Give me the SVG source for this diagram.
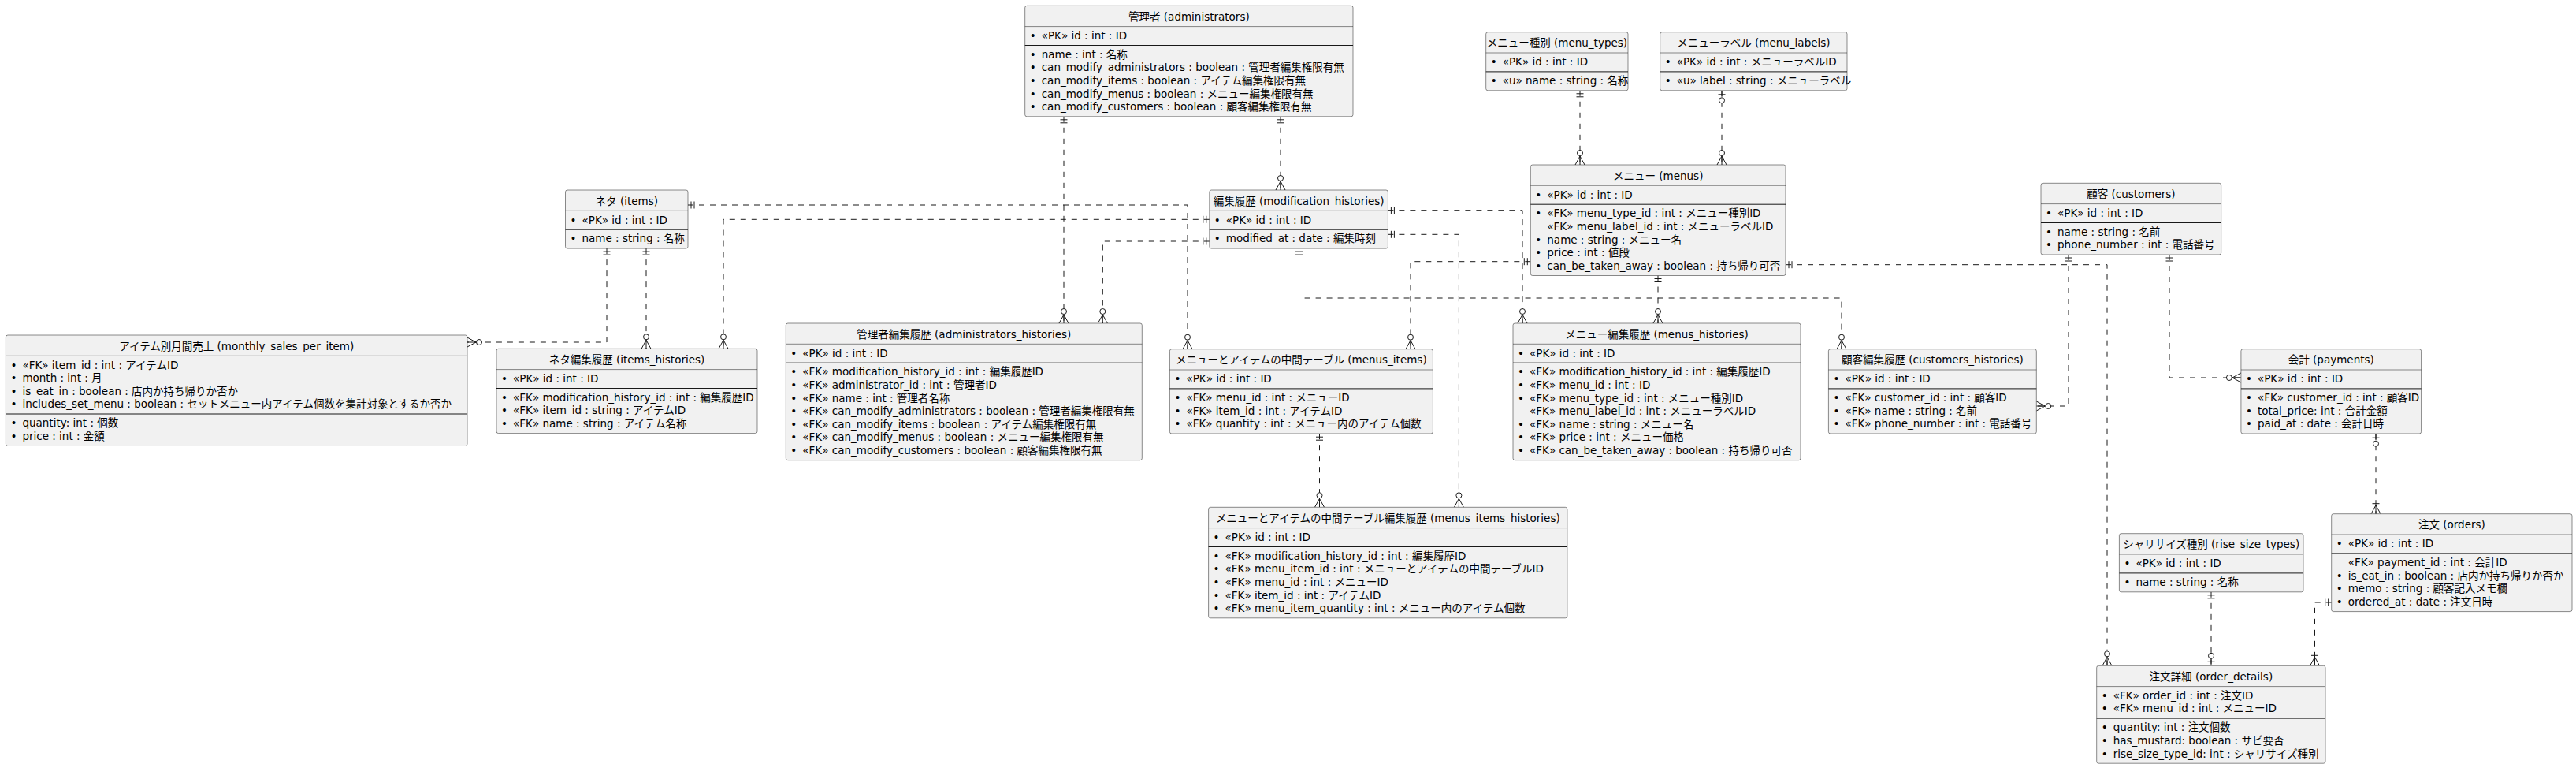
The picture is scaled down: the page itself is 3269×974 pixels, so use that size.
<svg xmlns="http://www.w3.org/2000/svg" width="3269" height="974" viewBox="0 0 3269 974">
<style>
.box{fill:#F1F1F1;stroke:#181818;stroke-width:0.5}
.tsep{stroke:#181818;stroke-width:0.5}
.sep{stroke:#181818;stroke-width:1}
text{font-family:"DejaVu Sans","Noto Sans CJK JP",sans-serif;font-size:13.5px;fill:#000}
.t{text-anchor:middle}
.c{fill:none;stroke:#181818;stroke-width:1;stroke-dasharray:7 7}
.m{fill:none;stroke:#181818;stroke-width:1}
.mc{fill:#fff;stroke:#181818;stroke-width:1}
</style>
<defs>
<marker id="one" viewBox="-20 -10 22 20" markerWidth="22" markerHeight="20" refX="0" refY="0" orient="auto-start-reverse" markerUnits="userSpaceOnUse" overflow="visible"><path class="m" d="M-4,-4.5V4.5M-8,-4.5V4.5"/></marker>
<marker id="zm" viewBox="-20 -10 22 20" markerWidth="22" markerHeight="20" refX="0" refY="0" orient="auto-start-reverse" markerUnits="userSpaceOnUse" overflow="visible"><path class="m" d="M0,-6L-11,0L0,6M0,0H-11"/><circle class="mc" cx="-15" cy="0" r="3.5"/></marker>
<marker id="zo" viewBox="-20 -10 22 20" markerWidth="22" markerHeight="20" refX="0" refY="0" orient="auto-start-reverse" markerUnits="userSpaceOnUse" overflow="visible"><path class="m" d="M-5,-4.5V4.5M0,0H-8"/><circle class="mc" cx="-12.5" cy="0" r="3.5"/></marker>
<marker id="om" viewBox="-20 -10 22 20" markerWidth="22" markerHeight="20" refX="0" refY="0" orient="auto-start-reverse" markerUnits="userSpaceOnUse" overflow="visible"><path class="m" d="M0,-6L-11,0L0,6M0,0H-11M-13,-4.5V4.5"/></marker>
</defs>
<rect x="0" y="0" width="3269" height="974" fill="#fff"/>

<g id="connectors">
<path class="c" d="M1350,147.8V410" marker-start="url(#one)" marker-end="url(#zm)"/>
<path class="c" d="M1625,147.8V241" marker-start="url(#one)" marker-end="url(#zm)"/>
<path class="c" d="M2005,114.8V209" marker-start="url(#one)" marker-end="url(#zm)"/>
<path class="c" d="M2185,114.8V209" marker-start="url(#zo)" marker-end="url(#zm)"/>
<path class="c" d="M873,260H1507V442.7" marker-start="url(#one)" marker-end="url(#zm)"/>
<path class="c" d="M770,315.1V434H593" marker-start="url(#one)" marker-end="url(#zm)"/>
<path class="c" d="M820,315.1V442.3" marker-start="url(#one)" marker-end="url(#zm)"/>
<path class="c" d="M1534.8,278.3H918V442.3" marker-start="url(#one)" marker-end="url(#zm)"/>
<path class="c" d="M1534.8,306H1399.3V410" marker-start="url(#one)" marker-end="url(#zm)"/>
<path class="c" d="M1761.4,266.7H1932V410" marker-start="url(#one)" marker-end="url(#zm)"/>
<path class="c" d="M1761.4,297.3H1851.4V643.3" marker-start="url(#one)" marker-end="url(#zm)"/>
<path class="c" d="M1648.5,315.1V378H2337V442.7" marker-start="url(#one)" marker-end="url(#zm)"/>
<path class="c" d="M1942.3,331.7H1790V442.7" marker-start="url(#one)" marker-end="url(#zm)"/>
<path class="c" d="M2104,349.5V410" marker-start="url(#one)" marker-end="url(#zm)"/>
<path class="c" d="M2266,335.7H2674V844.3" marker-start="url(#one)" marker-end="url(#zm)"/>
<path class="c" d="M1674.5,550.2V643.3" marker-start="url(#one)" marker-end="url(#zm)"/>
<path class="c" d="M2625,323V515H2584.3" marker-start="url(#one)" marker-end="url(#zm)"/>
<path class="c" d="M2753,323V479H2843.9" marker-start="url(#one)" marker-end="url(#zm)"/>
<path class="c" d="M3015,550.2V651.7" marker-start="url(#zo)" marker-end="url(#om)"/>
<path class="c" d="M2958.7,764H2937.5V844.3" marker-start="url(#one)" marker-end="url(#om)"/>
<path class="c" d="M2806,750.8V844.3" marker-start="url(#one)" marker-end="url(#zo)"/>
</g>

<g id="administrators">
<rect class="box" x="1300.7" y="7.3" width="416.3" height="140.5" rx="2.5"/>
<line class="tsep" x1="1300.7" y1="33.6" x2="1717" y2="33.6"/>
<line class="sep" x1="1300.7" y1="57.5" x2="1717" y2="57.5"/>
<text class="t" x="1508.9" y="25.8">管理者 (administrators)</text>
<text y="49.8"><tspan x="1306.7">•</tspan><tspan x="1321.7">«PK» id : int : ID</tspan></text>
<text y="73.7"><tspan x="1306.7">•</tspan><tspan x="1321.7">name : int : 名称</tspan></text>
<text y="90.3"><tspan x="1306.7">•</tspan><tspan x="1321.7">can_modify_administrators : boolean : 管理者編集権限有無</tspan></text>
<text y="106.9"><tspan x="1306.7">•</tspan><tspan x="1321.7">can_modify_items : boolean : アイテム編集権限有無</tspan></text>
<text y="123.5"><tspan x="1306.7">•</tspan><tspan x="1321.7">can_modify_menus : boolean : メニュー編集権限有無</tspan></text>
<text y="140.1"><tspan x="1306.7">•</tspan><tspan x="1321.7">can_modify_customers : boolean : 顧客編集権限有無</tspan></text>
</g>

<g id="menu_types">
<rect class="box" x="1885.7" y="40.7" width="180.3" height="74.1" rx="2.5"/>
<line class="tsep" x1="1885.7" y1="67" x2="2066" y2="67"/>
<line class="sep" x1="1885.7" y1="90.9" x2="2066" y2="90.9"/>
<text class="t" x="1975.9" y="59.2">メニュー種別 (menu_types)</text>
<text y="83.2"><tspan x="1891.7">•</tspan><tspan x="1906.7">«PK» id : int : ID</tspan></text>
<text y="107.1"><tspan x="1891.7">•</tspan><tspan x="1906.7">«u» name : string : 名称</tspan></text>
</g>

<g id="menu_labels">
<rect class="box" x="2106.7" y="40.7" width="237.3" height="74.1" rx="2.5"/>
<line class="tsep" x1="2106.7" y1="67" x2="2344" y2="67"/>
<line class="sep" x1="2106.7" y1="90.9" x2="2344" y2="90.9"/>
<text class="t" x="2225.4" y="59.2">メニューラベル (menu_labels)</text>
<text y="83.2"><tspan x="2112.7">•</tspan><tspan x="2127.7">«PK» id : int : メニューラベルID</tspan></text>
<text y="107.1"><tspan x="2112.7">•</tspan><tspan x="2127.7">«u» label : string : メニューラベル</tspan></text>
</g>

<g id="items">
<rect class="box" x="717.5" y="241" width="155.5" height="74.1" rx="2.5"/>
<line class="tsep" x1="717.5" y1="267.3" x2="873" y2="267.3"/>
<line class="sep" x1="717.5" y1="291.2" x2="873" y2="291.2"/>
<text class="t" x="795.3" y="259.5">ネタ (items)</text>
<text y="283.5"><tspan x="723.5">•</tspan><tspan x="738.5">«PK» id : int : ID</tspan></text>
<text y="307.4"><tspan x="723.5">•</tspan><tspan x="738.5">name : string : 名称</tspan></text>
</g>

<g id="modification_histories">
<rect class="box" x="1534.8" y="241" width="226.6" height="74.1" rx="2.5"/>
<line class="tsep" x1="1534.8" y1="267.3" x2="1761.4" y2="267.3"/>
<line class="sep" x1="1534.8" y1="291.2" x2="1761.4" y2="291.2"/>
<text class="t" x="1648.1" y="259.5">編集履歴 (modification_histories)</text>
<text y="283.5"><tspan x="1540.8">•</tspan><tspan x="1555.8">«PK» id : int : ID</tspan></text>
<text y="307.4"><tspan x="1540.8">•</tspan><tspan x="1555.8">modified_at : date : 編集時刻</tspan></text>
</g>

<g id="menus">
<rect class="box" x="1942.3" y="209" width="323.7" height="140.5" rx="2.5"/>
<line class="tsep" x1="1942.3" y1="235.3" x2="2266" y2="235.3"/>
<line class="sep" x1="1942.3" y1="259.2" x2="2266" y2="259.2"/>
<text class="t" x="2104.2" y="227.5">メニュー (menus)</text>
<text y="251.5"><tspan x="1948.3">•</tspan><tspan x="1963.3">«PK» id : int : ID</tspan></text>
<text y="275.4"><tspan x="1948.3">•</tspan><tspan x="1963.3">«FK» menu_type_id : int : メニュー種別ID</tspan></text>
<text y="292" x="1963.3">«FK» menu_label_id : int : メニューラベルID</text>
<text y="308.6"><tspan x="1948.3">•</tspan><tspan x="1963.3">name : string : メニュー名</tspan></text>
<text y="325.2"><tspan x="1948.3">•</tspan><tspan x="1963.3">price : int : 値段</tspan></text>
<text y="341.8"><tspan x="1948.3">•</tspan><tspan x="1963.3">can_be_taken_away : boolean : 持ち帰り可否</tspan></text>
</g>

<g id="customers">
<rect class="box" x="2590" y="232.3" width="228.7" height="90.7" rx="2.5"/>
<line class="tsep" x1="2590" y1="258.6" x2="2818.7" y2="258.6"/>
<line class="sep" x1="2590" y1="282.5" x2="2818.7" y2="282.5"/>
<text class="t" x="2704.4" y="250.8">顧客 (customers)</text>
<text y="274.8"><tspan x="2596">•</tspan><tspan x="2611">«PK» id : int : ID</tspan></text>
<text y="298.7"><tspan x="2596">•</tspan><tspan x="2611">name : string : 名前</tspan></text>
<text y="315.3"><tspan x="2596">•</tspan><tspan x="2611">phone_number : int : 電話番号</tspan></text>
</g>

<g id="monthly_sales_per_item">
<rect class="box" x="7.4" y="425" width="585.6" height="140.5" rx="2.5"/>
<line class="tsep" x1="7.4" y1="451.3" x2="593" y2="451.3"/>
<line class="sep" x1="7.4" y1="525" x2="593" y2="525"/>
<text class="t" x="300.2" y="443.5">アイテム別月間売上 (monthly_sales_per_item)</text>
<text y="467.5"><tspan x="13.4">•</tspan><tspan x="28.4">«FK» item_id : int : アイテムID</tspan></text>
<text y="484.1"><tspan x="13.4">•</tspan><tspan x="28.4">month : int : 月</tspan></text>
<text y="500.7"><tspan x="13.4">•</tspan><tspan x="28.4">is_eat_in : boolean : 店内か持ち帰りか否か</tspan></text>
<text y="517.3"><tspan x="13.4">•</tspan><tspan x="28.4">includes_set_menu : boolean : セットメニュー内アイテム個数を集計対象とするか否か</tspan></text>
<text y="541.2"><tspan x="13.4">•</tspan><tspan x="28.4">quantity: int : 個数</tspan></text>
<text y="557.8"><tspan x="13.4">•</tspan><tspan x="28.4">price : int : 金額</tspan></text>
</g>

<g id="items_histories">
<rect class="box" x="630" y="442.3" width="331" height="107.3" rx="2.5"/>
<line class="tsep" x1="630" y1="468.6" x2="961" y2="468.6"/>
<line class="sep" x1="630" y1="492.5" x2="961" y2="492.5"/>
<text class="t" x="795.5" y="460.8">ネタ編集履歴 (items_histories)</text>
<text y="484.8"><tspan x="636">•</tspan><tspan x="651">«PK» id : int : ID</tspan></text>
<text y="508.7"><tspan x="636">•</tspan><tspan x="651">«FK» modification_history_id : int : 編集履歴ID</tspan></text>
<text y="525.3"><tspan x="636">•</tspan><tspan x="651">«FK» item_id : string : アイテムID</tspan></text>
<text y="541.9"><tspan x="636">•</tspan><tspan x="651">«FK» name : string : アイテム名称</tspan></text>
</g>

<g id="administrators_histories">
<rect class="box" x="997.3" y="410" width="452" height="173.7" rx="2.5"/>
<line class="tsep" x1="997.3" y1="436.3" x2="1449.3" y2="436.3"/>
<line class="sep" x1="997.3" y1="460.2" x2="1449.3" y2="460.2"/>
<text class="t" x="1223.3" y="428.5">管理者編集履歴 (administrators_histories)</text>
<text y="452.5"><tspan x="1003.3">•</tspan><tspan x="1018.3">«PK» id : int : ID</tspan></text>
<text y="476.4"><tspan x="1003.3">•</tspan><tspan x="1018.3">«FK» modification_history_id : int : 編集履歴ID</tspan></text>
<text y="493"><tspan x="1003.3">•</tspan><tspan x="1018.3">«FK» administrator_id : int : 管理者ID</tspan></text>
<text y="509.6"><tspan x="1003.3">•</tspan><tspan x="1018.3">«FK» name : int : 管理者名称</tspan></text>
<text y="526.2"><tspan x="1003.3">•</tspan><tspan x="1018.3">«FK» can_modify_administrators : boolean : 管理者編集権限有無</tspan></text>
<text y="542.8"><tspan x="1003.3">•</tspan><tspan x="1018.3">«FK» can_modify_items : boolean : アイテム編集権限有無</tspan></text>
<text y="559.4"><tspan x="1003.3">•</tspan><tspan x="1018.3">«FK» can_modify_menus : boolean : メニュー編集権限有無</tspan></text>
<text y="576"><tspan x="1003.3">•</tspan><tspan x="1018.3">«FK» can_modify_customers : boolean : 顧客編集権限有無</tspan></text>
</g>

<g id="menus_items">
<rect class="box" x="1484.4" y="442.7" width="334" height="107.3" rx="2.5"/>
<line class="tsep" x1="1484.4" y1="469" x2="1818.4" y2="469"/>
<line class="sep" x1="1484.4" y1="492.9" x2="1818.4" y2="492.9"/>
<text class="t" x="1651.4" y="461.2">メニューとアイテムの中間テーブル (menus_items)</text>
<text y="485.2"><tspan x="1490.4">•</tspan><tspan x="1505.4">«PK» id : int : ID</tspan></text>
<text y="509.1"><tspan x="1490.4">•</tspan><tspan x="1505.4">«FK» menu_id : int : メニューID</tspan></text>
<text y="525.7"><tspan x="1490.4">•</tspan><tspan x="1505.4">«FK» item_id : int : アイテムID</tspan></text>
<text y="542.3"><tspan x="1490.4">•</tspan><tspan x="1505.4">«FK» quantity : int : メニュー内のアイテム個数</tspan></text>
</g>

<g id="menus_histories">
<rect class="box" x="1920" y="410" width="365" height="173.7" rx="2.5"/>
<line class="tsep" x1="1920" y1="436.3" x2="2285" y2="436.3"/>
<line class="sep" x1="1920" y1="460.2" x2="2285" y2="460.2"/>
<text class="t" x="2102.5" y="428.5">メニュー編集履歴 (menus_histories)</text>
<text y="452.5"><tspan x="1926">•</tspan><tspan x="1941">«PK» id : int : ID</tspan></text>
<text y="476.4"><tspan x="1926">•</tspan><tspan x="1941">«FK» modification_history_id : int : 編集履歴ID</tspan></text>
<text y="493"><tspan x="1926">•</tspan><tspan x="1941">«FK» menu_id : int : ID</tspan></text>
<text y="509.6"><tspan x="1926">•</tspan><tspan x="1941">«FK» menu_type_id : int : メニュー種別ID</tspan></text>
<text y="526.2" x="1941">«FK» menu_label_id : int : メニューラベルID</text>
<text y="542.8"><tspan x="1926">•</tspan><tspan x="1941">«FK» name : string : メニュー名</tspan></text>
<text y="559.4"><tspan x="1926">•</tspan><tspan x="1941">«FK» price : int : メニュー価格</tspan></text>
<text y="576"><tspan x="1926">•</tspan><tspan x="1941">«FK» can_be_taken_away : boolean : 持ち帰り可否</tspan></text>
</g>

<g id="customers_histories">
<rect class="box" x="2320.4" y="442.7" width="263.9" height="107.3" rx="2.5"/>
<line class="tsep" x1="2320.4" y1="469" x2="2584.3" y2="469"/>
<line class="sep" x1="2320.4" y1="492.9" x2="2584.3" y2="492.9"/>
<text class="t" x="2452.4" y="461.2">顧客編集履歴 (customers_histories)</text>
<text y="485.2"><tspan x="2326.4">•</tspan><tspan x="2341.4">«PK» id : int : ID</tspan></text>
<text y="509.1"><tspan x="2326.4">•</tspan><tspan x="2341.4">«FK» customer_id : int : 顧客ID</tspan></text>
<text y="525.7"><tspan x="2326.4">•</tspan><tspan x="2341.4">«FK» name : string : 名前</tspan></text>
<text y="542.3"><tspan x="2326.4">•</tspan><tspan x="2341.4">«FK» phone_number : int : 電話番号</tspan></text>
</g>

<g id="payments">
<rect class="box" x="2843.9" y="442.7" width="228.7" height="107.3" rx="2.5"/>
<line class="tsep" x1="2843.9" y1="469" x2="3072.6" y2="469"/>
<line class="sep" x1="2843.9" y1="492.9" x2="3072.6" y2="492.9"/>
<text class="t" x="2958.3" y="461.2">会計 (payments)</text>
<text y="485.2"><tspan x="2849.9">•</tspan><tspan x="2864.9">«PK» id : int : ID</tspan></text>
<text y="509.1"><tspan x="2849.9">•</tspan><tspan x="2864.9">«FK» customer_id : int : 顧客ID</tspan></text>
<text y="525.7"><tspan x="2849.9">•</tspan><tspan x="2864.9">total_price: int : 合計金額</tspan></text>
<text y="542.3"><tspan x="2849.9">•</tspan><tspan x="2864.9">paid_at : date : 会計日時</tspan></text>
</g>

<g id="menus_items_histories">
<rect class="box" x="1533.6" y="643.3" width="455.3" height="140.5" rx="2.5"/>
<line class="tsep" x1="1533.6" y1="669.6" x2="1988.9" y2="669.6"/>
<line class="sep" x1="1533.6" y1="693.5" x2="1988.9" y2="693.5"/>
<text class="t" x="1761.3" y="661.8">メニューとアイテムの中間テーブル編集履歴 (menus_items_histories)</text>
<text y="685.8"><tspan x="1539.6">•</tspan><tspan x="1554.6">«PK» id : int : ID</tspan></text>
<text y="709.7"><tspan x="1539.6">•</tspan><tspan x="1554.6">«FK» modification_history_id : int : 編集履歴ID</tspan></text>
<text y="726.3"><tspan x="1539.6">•</tspan><tspan x="1554.6">«FK» menu_item_id : int : メニューとアイテムの中間テーブルID</tspan></text>
<text y="742.9"><tspan x="1539.6">•</tspan><tspan x="1554.6">«FK» menu_id : int : メニューID</tspan></text>
<text y="759.5"><tspan x="1539.6">•</tspan><tspan x="1554.6">«FK» item_id : int : アイテムID</tspan></text>
<text y="776.1"><tspan x="1539.6">•</tspan><tspan x="1554.6">«FK» menu_item_quantity : int : メニュー内のアイテム個数</tspan></text>
</g>

<g id="rise_size_types">
<rect class="box" x="2689.4" y="676.7" width="233.6" height="74.1" rx="2.5"/>
<line class="tsep" x1="2689.4" y1="703" x2="2923" y2="703"/>
<line class="sep" x1="2689.4" y1="726.9" x2="2923" y2="726.9"/>
<text class="t" x="2806.2" y="695.2">シャリサイズ種別 (rise_size_types)</text>
<text y="719.2"><tspan x="2695.4">•</tspan><tspan x="2710.4">«PK» id : int : ID</tspan></text>
<text y="743.1"><tspan x="2695.4">•</tspan><tspan x="2710.4">name : string : 名称</tspan></text>
</g>

<g id="orders">
<rect class="box" x="2958.7" y="651.7" width="305.3" height="123.9" rx="2.5"/>
<line class="tsep" x1="2958.7" y1="678" x2="3264" y2="678"/>
<line class="sep" x1="2958.7" y1="701.9" x2="3264" y2="701.9"/>
<text class="t" x="3111.4" y="670.2">注文 (orders)</text>
<text y="694.2"><tspan x="2964.7">•</tspan><tspan x="2979.7">«PK» id : int : ID</tspan></text>
<text y="718.1" x="2979.7">«FK» payment_id : int : 会計ID</text>
<text y="734.7"><tspan x="2964.7">•</tspan><tspan x="2979.7">is_eat_in : boolean : 店内か持ち帰りか否か</tspan></text>
<text y="751.3"><tspan x="2964.7">•</tspan><tspan x="2979.7">memo : string : 顧客記入メモ欄</tspan></text>
<text y="767.9"><tspan x="2964.7">•</tspan><tspan x="2979.7">ordered_at : date : 注文日時</tspan></text>
</g>

<g id="order_details">
<rect class="box" x="2660.7" y="844.3" width="290.3" height="123.9" rx="2.5"/>
<line class="tsep" x1="2660.7" y1="870.6" x2="2951" y2="870.6"/>
<line class="sep" x1="2660.7" y1="911.1" x2="2951" y2="911.1"/>
<text class="t" x="2805.9" y="862.8">注文詳細 (order_details)</text>
<text y="886.8"><tspan x="2666.7">•</tspan><tspan x="2681.7">«FK» order_id : int : 注文ID</tspan></text>
<text y="903.4"><tspan x="2666.7">•</tspan><tspan x="2681.7">«FK» menu_id : int : メニューID</tspan></text>
<text y="927.3"><tspan x="2666.7">•</tspan><tspan x="2681.7">quantity: int : 注文個数</tspan></text>
<text y="943.9"><tspan x="2666.7">•</tspan><tspan x="2681.7">has_mustard: boolean : サビ要否</tspan></text>
<text y="960.5"><tspan x="2666.7">•</tspan><tspan x="2681.7">rise_size_type_id: int : シャリサイズ種別</tspan></text>
</g>
</svg>
